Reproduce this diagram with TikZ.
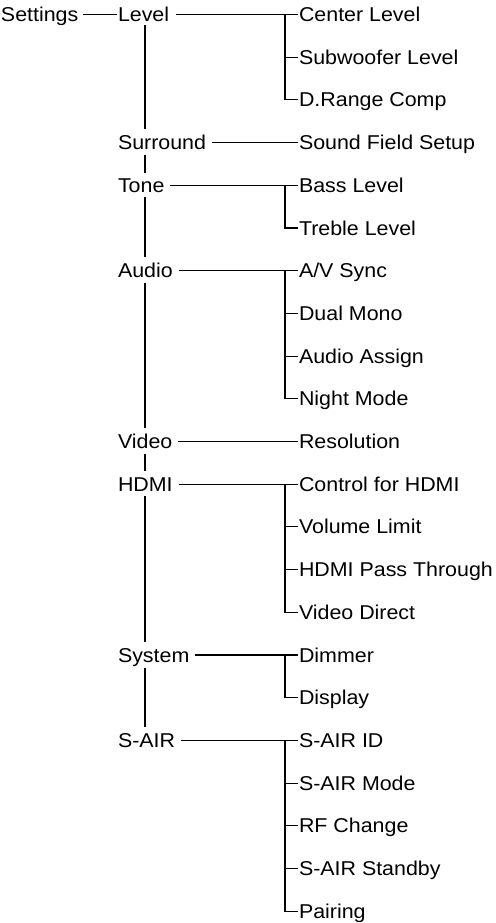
\documentclass[tikz,border=0pt]{standalone}
\usepackage{fontspec}
\setmainfont{Liberation Sans}[FakeStretch=1.07]
\usetikzlibrary{calc}
\begin{document}
\begin{tikzpicture}[x=1pt,y=-1pt,
  lbl/.style={anchor=base west,inner sep=0pt,outer sep=0pt,font=\fontsize{20}{24}\selectfont},
  conn/.style={line width=1.1pt},
  spineline/.style={line width=1.8pt}]
\useasboundingbox (0,0) rectangle (495,923);
% root and second level
\node[lbl] (settings) at (1,21.5) {Settings};
\node[lbl] (level) at (118,21.5) {Level};
\node[lbl] (surround) at (118,149.6) {Surround};
\node[lbl] (tone) at (118,192.3) {Tone};
\node[lbl] (audio) at (118,277.7) {Audio};
\node[lbl] (video) at (118,448.5) {Video};
\node[lbl] (hdmi) at (118,491.2) {HDMI};
\node[lbl] (system) at (118,662.0) {System};
\node[lbl] (sair) at (118,747.4) {S-AIR};
% leaves
\node[lbl] (c0) at (299,21.5) {Center Level};
\node[lbl] (c1) at (299,64.2) {Subwoofer Level};
\node[lbl] (c2) at (299,106.9) {D.Range Comp};
\node[lbl] (c3) at (299,149.6) {Sound Field Setup};
\node[lbl] (c4) at (299,192.3) {Bass Level};
\node[lbl] (c5) at (299,235.0) {Treble Level};
\node[lbl] (c6) at (299,277.7) {A/V Sync};
\node[lbl] (c7) at (299,320.4) {Dual Mono};
\node[lbl] (c8) at (299,363.1) {Audio Assign};
\node[lbl] (c9) at (299,405.8) {Night Mode};
\node[lbl] (c10) at (299,448.5) {Resolution};
\node[lbl] (c11) at (299,491.2) {Control for HDMI};
\node[lbl] (c12) at (299,533.9) {Volume Limit};
\node[lbl] (c13) at (299,576.6) {HDMI Pass Through};
\node[lbl] (c14) at (299,619.3) {Video Direct};
\node[lbl] (c15) at (299,662.0) {Dimmer};
\node[lbl] (c16) at (299,704.7) {Display};
\node[lbl] (c17) at (299,747.4) {S-AIR ID};
\node[lbl] (c18) at (299,790.1) {S-AIR Mode};
\node[lbl] (c19) at (299,832.8) {RF Change};
\node[lbl] (c20) at (299,875.5) {S-AIR Standby};
\node[lbl] (c21) at (299,918.2) {Pairing};
% root connector
\draw[conn] ($(settings.base east)+(5,-7)$) -- ($(level.base west)+(-1.5,-7)$);
% parent to first child
\draw[conn] ($(level.base east)+(7,-7)$) -- ($(c0.base west)+(-1,-7)$);
\draw[conn] ($(surround.base east)+(6,-7)$) -- ($(c3.base west)+(-1,-7)$);
\draw[conn] ($(tone.base east)+(6,-7)$) -- ($(c4.base west)+(-1,-7)$);
\draw[conn] ($(audio.base east)+(6,-7)$) -- ($(c6.base west)+(-1,-7)$);
\draw[conn] ($(video.base east)+(6,-7)$) -- ($(c10.base west)+(-1,-7)$);
\draw[conn] ($(hdmi.base east)+(6,-7)$) -- ($(c11.base west)+(-1,-7)$);
\draw[conn] ($(system.base east)+(6,-7)$) -- ($(c15.base west)+(-1,-7)$);
\draw[conn] ($(sair.base east)+(6,-7)$) -- ($(c17.base west)+(-1,-7)$);
% branch brackets
\coordinate (bLevel) at ($(c0.base west)+(-14,-7)$);
\draw[conn] ($(c1.base west)+(-1,-7)$) -| (bLevel);
\draw[conn] ($(c2.base west)+(-1,-7)$) -| (bLevel);
\coordinate (bTone) at ($(c4.base west)+(-14,-7)$);
\draw[conn] ($(c5.base west)+(-1,-7)$) -| (bTone);
\coordinate (bAudio) at ($(c6.base west)+(-14,-7)$);
\draw[conn] ($(c7.base west)+(-1,-7)$) -| (bAudio);
\draw[conn] ($(c8.base west)+(-1,-7)$) -| (bAudio);
\draw[conn] ($(c9.base west)+(-1,-7)$) -| (bAudio);
\coordinate (bHdmi) at ($(c11.base west)+(-14,-7)$);
\draw[conn] ($(c12.base west)+(-1,-7)$) -| (bHdmi);
\draw[conn] ($(c13.base west)+(-1,-7)$) -| (bHdmi);
\draw[conn] ($(c14.base west)+(-1,-7)$) -| (bHdmi);
\coordinate (bSystem) at ($(c15.base west)+(-14,-7)$);
\draw[conn] ($(c16.base west)+(-1,-7)$) -| (bSystem);
\coordinate (bSair) at ($(c17.base west)+(-14,-7)$);
\draw[conn] ($(c18.base west)+(-1,-7)$) -| (bSair);
\draw[conn] ($(c19.base west)+(-1,-7)$) -| (bSair);
\draw[conn] ($(c20.base west)+(-1,-7)$) -| (bSair);
\draw[conn] ($(c21.base west)+(-1,-7)$) -| (bSair);
% main spine
\coordinate (spine) at (145,0);
\draw[spineline] ($(level.base -| spine)+(0,4)$) -- ($(surround.north -| spine)+(0,-6)$);
\draw[spineline] ($(surround.base -| spine)+(0,5)$) -- ($(tone.north -| spine)+(0,-6)$);
\draw[spineline] ($(tone.base -| spine)+(0,5)$) -- ($(audio.north -| spine)+(0,-6)$);
\draw[spineline] ($(audio.base -| spine)+(0,5)$) -- ($(video.north -| spine)+(0,-6)$);
\draw[spineline] ($(video.base -| spine)+(0,5)$) -- ($(hdmi.north -| spine)+(0,-6)$);
\draw[spineline] ($(hdmi.base -| spine)+(0,5)$) -- ($(system.north -| spine)+(0,-6)$);
\draw[spineline] ($(system.base -| spine)+(0,6)$) -- ($(sair.north -| spine)+(0,-6)$);
\end{tikzpicture}
\end{document}
